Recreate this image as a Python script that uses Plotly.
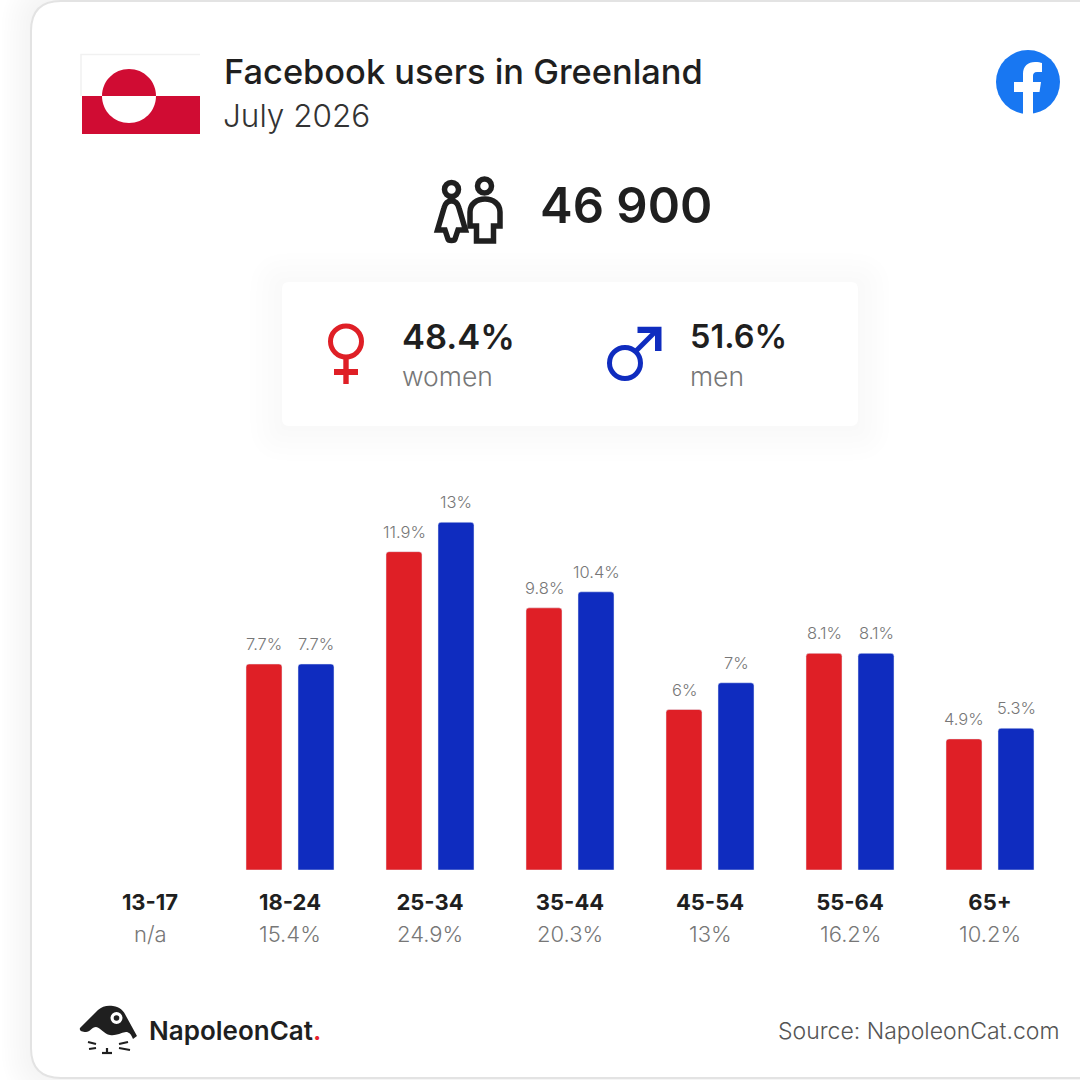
import re
import plotly.graph_objects as go

age_groups = ["13-17", "18-24", "25-34", "35-44", "45-54", "55-64", "65+"]
age_totals = ["n/a", "15.4%", "24.9%", "20.3%", "13%", "16.2%", "10.2%"]
women_values = [None, 7.7, 11.9, 9.8, 6.0, 8.1, 4.9]
men_values = [None, 7.7, 13.0, 10.4, 7.0, 8.1, 5.3]
women_labels = ["", "7.7%", "11.9%", "9.8%", "6%", "8.1%", "4.9%"]
men_labels = ["", "7.7%", "13%", "10.4%", "7%", "8.1%", "5.3%"]

RED = "#DF1F26"
BLUE = "#0F2CBF"
DARK = "#1F1F1F"
GREY = "#777777"
FONT = "Inter"
S = 1080.0

def px(x):
    return x / S
def py(y):
    return 1 - y / S
def conv(path):
    return re.sub(r"(-?[\d.]+),(-?[\d.]+)", lambda m: f"{px(float(m[1])):.5f},{py(float(m[2])):.5f}", path)

def rr(x0, y0, x1, y1, r):
    return (f"M{x0+r},{y0} L{x1-r},{y0} Q{x1},{y0} {x1},{y0+r} L{x1},{y1-r} Q{x1},{y1} {x1-r},{y1} "
            f"L{x0+r},{y1} Q{x0},{y1} {x0},{y1-r} L{x0},{y0+r} Q{x0},{y0} {x0+r},{y0} Z")

shapes = []
def add_path(path, fill=None, line=None, width=0, layer="above"):
    shapes.append(dict(type="path", xref="paper", yref="paper", path=conv(path), layer=layer,
                       fillcolor=fill or "rgba(0,0,0,0)",
                       line=dict(color=line or "rgba(0,0,0,0)", width=width)))
def add_circle(cx, cy, r, fill=None, line=None, width=0):
    shapes.append(dict(type="circle", xref="paper", yref="paper", x0=px(cx-r), x1=px(cx+r), y0=py(cy-r), y1=py(cy+r),
                       layer="above", fillcolor=fill or "rgba(0,0,0,0)",
                       line=dict(color=line or "rgba(0,0,0,0)", width=width)))
def add_box(x0, y0, x1, y1, fill):
    shapes.append(dict(type="rect", xref="paper", yref="paper", x0=px(x0), x1=px(x1), y0=py(y0), y1=py(y1), layer="above",
                       fillcolor=fill, line=dict(width=0)))

# outer card with soft shadow
for k in range(30, 0, -3):
    add_path(rr(31-k, 1-k, 1140, 1078+k, 30+k), fill="rgba(0,0,0,0.0035)", layer="below")
add_path(rr(31, 1, 1140, 1078, 30), fill="#FFFFFF", line="#E3E3E3", width=2, layer="below")
# stat panel with soft shadow
for k in range(32, 0, -6):
    add_path(rr(282-k, 282-k+3, 858+k, 426+k+3, 6+k), fill="rgba(0,0,0,0.004)", layer="below")
add_path(rr(282, 282, 858, 426, 7), fill="#FFFFFF", layer="below")

# flag
add_path("M81,96 L81,54.5 L200,54.5", line="#F1F1F1", width=1.5)
add_box(82, 96, 200, 134, "#D00C33")
add_path("M102,96 C102,81 114,69 129,69 C144,69 156,81 156,96 Z", fill="#D00C33")
add_path("M102,96 C102,111 114,123 129,123 C144,123 156,111 156,96 Z", fill="#FFFFFF")

# facebook badge
add_circle(1028, 82, 32, fill="#1877F2")
add_path("M1023,114 L1023,92 L1014,92 L1014,82 L1023,82 L1023,74 C1023,66 1028,62 1035,62 "
         "C1038,62 1041,62.5 1042,63 L1042,72 L1037,72 C1034,72 1033,74 1033,76 L1033,82 L1041,82 "
         "L1039.5,92 L1033,92 L1033,114 Z", fill="#FFFFFF")

# people icon
add_circle(451.5, 189.5, 7, line=DARK, width=5.5)
add_circle(484.5, 186, 7, line=DARK, width=5.5)
add_path("M451.5,201 C447,201 445,204 444,208 L437.5,230 L445,230 L448,239 C448.5,241 454.5,241 455,239 "
         "L458,230 L465.5,230 L459,208 C458,204 456,201 451.5,201 Z", line=DARK, width=5.5)
add_path("M476.5,226 L470,226 L470,212 C470,204 477,199 485,199 C493,199 500,204 500,212 L500,226 "
         "L493.5,226 L493.5,241 L476.5,241 Z", line=DARK, width=5.5)

# female symbol
add_circle(346, 341.5, 15.5, line=RED, width=5)
add_box(343.3, 358, 348.7, 384, RED)
add_box(334, 369, 358, 375, RED)
# male symbol
add_circle(625, 363, 15.5, line=BLUE, width=5)
add_path("M636,351 L658,329", line=BLUE, width=5)
add_path("M637.5,326.7 L661.5,326.7 L661.5,351 L655,351 L655,333 L637.5,333 Z", fill=BLUE)

# NapoleonCat logo
add_path("M80,1028 L98,1010 C102,1006 108,1005 113,1006 C120,1007 124,1011 126,1016 L137,1036 L133,1039 "
         "C131,1034 129,1032 126,1032 C120,1033 116,1036 110,1035 C104,1034 101,1028 96,1027 C92,1027 90,1032 86,1032 "
         "C82,1032 79,1031 80,1028 Z", fill=DARK)
add_circle(116.5, 1018, 6, fill="#FFFFFF")
add_circle(116.5, 1018, 2.8, fill=DARK)
for seg in ["M88,1042 L96,1044", "M89,1049 L96,1048", "M119,1044 L128,1042", "M119,1048 L130,1050",
            "M107,1048 L107,1052", "M102,1053 L112,1053"]:
    add_path(seg, line=DARK, width=2.2)

fig = go.Figure()
fig.add_bar(x=age_groups, y=women_values, name="women", marker=dict(color=RED, cornerradius=3),
            hoverinfo="skip", showlegend=False)
fig.add_bar(x=age_groups, y=men_values, name="men", marker=dict(color=BLUE, cornerradius=3),
            hoverinfo="skip", showlegend=False)

ann = []
def text(x, y, s, size, color=DARK, weight=400, anchor="left"):
    ann.append(dict(xref="paper", yref="paper", x=px(x), y=py(y), text=s, showarrow=False, xanchor=anchor,
                    yanchor="middle", font=dict(family=FONT, size=size, color=color, weight=weight)))

text(222, 71, "Facebook users in Greenland", 34.4, DARK, 500)
text(221, 115, "July 2026", 31.5, "#333333", 300)
text(538, 205, "46 900", 49, DARK, 600)
text(400, 336, "48.4%", 34.5, DARK, 600)
text(400, 376, "women", 26.5, GREY, 300)
text(688, 336, "51.6%", 32.5, DARK, 600)
text(688, 376, "men", 26.5, GREY, 300)
text(1061, 1031, "Source: NapoleonCat.com", 23, "#555555", 300, "right")
text(147, 1030, 'NapoleonCat<span style="color:#E8222E">.</span>', 26, DARK, 600)

for i, g in enumerate(age_groups):
    ann.append(dict(xref="x", yref="paper", x=g, y=py(934), text=age_totals[i], showarrow=False, yanchor="middle",
                    font=dict(family=FONT, size=22, color=GREY, weight=300)))
    if women_values[i] is not None:
        for vals, labs, dx in ((women_values, women_labels, -26), (men_values, men_labels, 26)):
            ann.append(dict(xref="x", yref="y", x=g, y=vals[i], text=labs[i], showarrow=False, xshift=dx,
                            yanchor="bottom", yshift=8,
                            font=dict(family=FONT, size=16.5, color=GREY, weight=300)))

fig.update_layout(
    width=1080, height=1080, margin=dict(l=0, r=0, t=0, b=0),
    paper_bgcolor="#FFFFFF", plot_bgcolor="rgba(0,0,0,0)",
    barmode="group", bargap=36/140, bargroupgap=16/52,
    showlegend=False, shapes=shapes, annotations=ann,
    xaxis=dict(domain=[80/1080, 1060/1080], type="category", categoryorder="array", categoryarray=age_groups,
               showgrid=False, zeroline=False, showline=False, ticks="", ticklen=0, anchor="y",
               tickfont=dict(family=FONT, size=22, color=DARK, weight=700), ticklabelstandoff=17),
    yaxis=dict(domain=[1-870/1080, 1-495.5/1080], range=[0, 14], visible=False, anchor="x"),
)
fig.write_html("out.html", post_script="document.body.style.margin='0';document.documentElement.style.overflow='hidden';",
               config=dict(displayModeBar=False))
